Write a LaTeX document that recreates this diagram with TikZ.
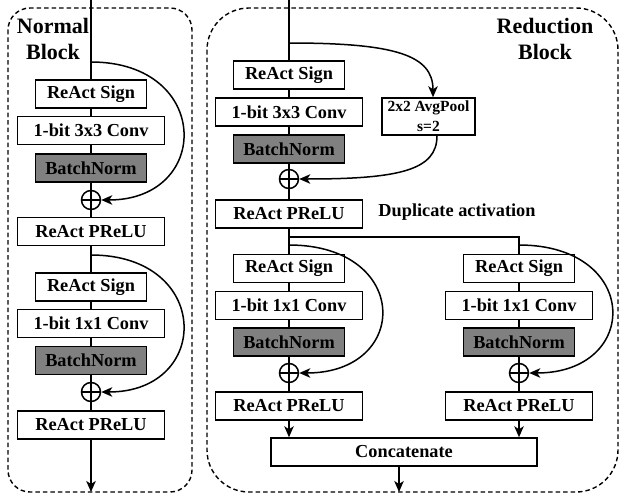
\documentclass[tikz,border=0pt]{standalone}
\usepackage{fontspec}
\setmainfont{Liberation Serif}
\usetikzlibrary{arrows.meta}
\definecolor{bngray}{RGB}{128,128,128}
\begin{document}
\begin{tikzpicture}[x=1pt,y=-1pt,line width=1.5pt,
 blk/.style={draw, line width=1.5pt, inner sep=0pt, minimum height=28pt, font=\bfseries\fontsize{18.3}{20}\selectfont},
 nar/.style={blk, minimum width=111pt},
 wid/.style={blk, minimum width=147pt},
 bnbox/.style={nar, fill=bngray},
 addop/.style={circle, draw, line width=1.5pt, minimum size=19pt, inner sep=0pt,
   path picture={\draw[line width=1.5pt] (path picture bounding box.north) -- (path picture bounding box.south)
     (path picture bounding box.west) -- (path picture bounding box.east);}},
 arr/.style={-{Stealth[length=11pt,width=9.5pt,inset=3pt]}},
 blockframe/.style={draw, line width=1.4pt, dash pattern=on 4.5pt off 3pt},
 titlefont/.style={font=\bfseries\fontsize{22}{26}\selectfont, align=center, inner sep=0pt},
]
\useasboundingbox (0,0) rectangle (620,495);
\fill[white] (0,0) rectangle (620,495);

% frames
\draw[blockframe, rounded corners=22pt] (8,8) rectangle (192,492);
\draw[blockframe, rounded corners=42pt] (207,8) rectangle (618,492);

% titles
\node[titlefont, anchor=north] (tn) at (53,17.5) {Normal\\Block};
\node[titlefont, anchor=north] (tr) at (545,17.5) {Reduction\\Block};

% ---------- Normal block ----------
\node[nar] (ls1) at (91,94) {ReAct Sign};
\node[wid] (lc1) at (91,130.5) {1-bit 3x3 Conv};
\node[bnbox] (lb1) at (91,168) {BatchNorm};
\node[addop] (lo1) at (91,200) {};
\node[wid] (lp1) at (91,231.5) {ReAct PReLU};
\node[nar] (ls2) at (91,287) {ReAct Sign};
\node[wid] (lc2) at (91,323.5) {1-bit 1x1 Conv};
\node[bnbox] (lb2) at (91,360.5) {BatchNorm};
\node[addop] (lo2) at (91,392) {};
\node[wid] (lp2) at (91,425) {ReAct PReLU};

\coordinate (ltop) at (91,0);
\coordinate (lend) at (91,492);
\coordinate (lk1) at (91,62);
\coordinate (lk2) at (91,255);

\draw (ltop) -- (ls1) -- (lc1) -- (lb1) -- (lo1) -- (lp1) -- (ls2) -- (lc2) -- (lb2) -- (lo2) -- (lp2);
\draw[arr] (lp2) -- (lend);
\draw[arr] (lk1) .. controls (212,62) and (212,200) .. (lo1.east);
\draw[arr] (lk2) .. controls (212,255) and (212,392) .. (lo2.east);

% ---------- Reduction block ----------
\node[nar] (rs) at (289,75) {ReAct Sign};
\node[wid] (rc) at (289,112) {1-bit 3x3 Conv};
\node[bnbox] (rb) at (289,149) {BatchNorm};
\node[addop] (ro) at (289,179) {};
\node[wid] (rp) at (289,214) {ReAct PReLU};
\node[draw, line width=1.5pt, minimum width=93pt, minimum height=37pt, inner sep=0pt, align=center,
      font=\bfseries\fontsize{15.5}{20}\selectfont] (avg) at (428.5,116.5) {2x2 AvgPool\\s=2};
\node[font=\bfseries\fontsize{18.3}{20}\selectfont, anchor=base, inner sep=0pt] (dup) at (457,216) {Duplicate activation};

\coordinate (rtop) at (289,0);
\coordinate (rk1) at (289,43);
\coordinate (split) at (289,237);

% branches
\node[nar] (bls) at (289,268.5) {ReAct Sign};
\node[wid] (blc) at (289,305.5) {1-bit 1x1 Conv};
\node[bnbox] (blb) at (289,342) {BatchNorm};
\node[addop] (blo) at (289,373) {};
\node[wid] (blp) at (289,406) {ReAct PReLU};

\node[nar] (brs) at (519,268.5) {ReAct Sign};
\node[wid] (brc) at (519,305.5) {1-bit 1x1 Conv};
\node[bnbox] (brb) at (519,342) {BatchNorm};
\node[addop] (bro) at (519,373) {};
\node[wid] (brp) at (519,406) {ReAct PReLU};

\node[blk, minimum width=266pt] (cat) at (404,452) {Concatenate};

\coordinate (blk2) at (289,245);
\coordinate (brk2) at (519,245);
\coordinate (rend) at (399,492);

\draw (rtop) -- (rs) -- (rc) -- (rb) -- (ro) -- (rp) -- (bls) -- (blc) -- (blb) -- (blo) -- (blp);
\draw (split) -| (brs.north);
\draw (brs) -- (brc) -- (brb) -- (bro) -- (brp);

\draw[arr] (rk1) .. controls (395,43) and (433,55) .. ([xshift=4.5pt]avg.north);
\draw[arr] ([xshift=8.5pt]avg.south) .. controls (437,170) and (400,179) .. (ro.east);

\draw[arr] (blk2) .. controls (411,245) and (411,373) .. (blo.east);
\draw[arr] (brk2) .. controls (641,245) and (641,373) .. (bro.east);

\draw[arr] (blp.south) -- (blp.south |- cat.north);
\draw[arr] (brp.south) -- (brp.south |- cat.north);
\draw[arr] (rend |- cat.south) -- (rend);
\end{tikzpicture}
\end{document}
